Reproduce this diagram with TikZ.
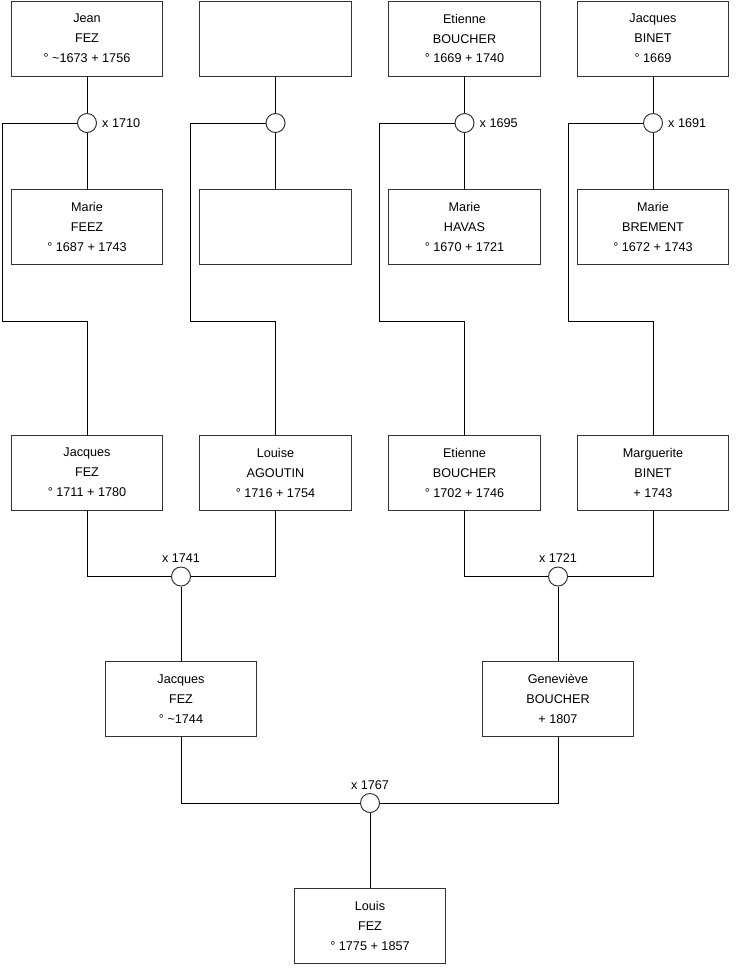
\documentclass[tikz,border=0pt]{standalone}
\usepackage{fontspec}
\setmainfont{Liberation Sans}
\begin{document}
\begin{tikzpicture}[x=0.025cm,y=-0.025cm,line width=0.7pt,
  every node/.style={font=\fontsize{9pt}{14.2pt}\selectfont},
  person/.style={draw=black!80,fill=white,align=center,minimum width=3.775cm,minimum height=1.875cm,inner sep=0pt},
  union/.style={draw=black!80,fill=white,circle,minimum size=0.475cm,inner sep=0pt}]
  \useasboundingbox (0,0) rectangle (740,975);
  % generation 1
  \node[person] (jean) at (87,38.5) {Jean\\FEZ\\° \textasciitilde1673 + 1756};
  \node[person] (unknown) at (275.5,38.5) {};
  \node[person] (etienne) at (464.5,38.5) {Etienne\\BOUCHER\\° 1669 + 1740};
  \node[person] (jacquesb) at (653,38.5) {Jacques\\BINET\\° 1669};
  \node[person] (mariefeez) at (87,227) {Marie\\FEEZ\\° 1687 + 1743};
  \node[person] (unknown2) at (275.5,227) {};
  \node[person] (mariehavas) at (464.5,227) {Marie\\HAVAS\\° 1670 + 1721};
  \node[person] (mariebrement) at (653,227) {Marie\\BREMENT\\° 1672 + 1743};
  \node[union,label={right:x 1710}] (m1) at (87,123) {};
  \node[union] (m2) at (275.5,123) {};
  \node[union,label={right:x 1695}] (m3) at (464.5,123) {};
  \node[union,label={right:x 1691}] (m4) at (653,123) {};
  \coordinate (k1) at (2,321);
  \coordinate (k2) at (190.5,321);
  \coordinate (k3) at (379.5,321);
  \coordinate (k4) at (568,321);
  % generation 2
  \node[person] (jacques) at (87,472.5) {Jacques\\FEZ\\° 1711 + 1780};
  \node[person] (louise) at (275.5,472.5) {Louise\\AGOUTIN\\° 1716 + 1754};
  \node[person] (etienne2) at (464.5,472.5) {Etienne\\BOUCHER\\° 1702 + 1746};
  \node[person] (marguerite) at (653,472.5) {Marguerite\\BINET\\+ 1743};
  \node[union,label={[label distance=-1pt]above:x 1741}] (m5) at (181,576.5) {};
  \node[union,label={[label distance=-1pt]above:x 1721}] (m6) at (558,576.5) {};
  % generation 3
  \node[person] (jacques2) at (181,699) {Jacques\\FEZ\\° \textasciitilde1744};
  \node[person] (genevieve) at (558,699) {Geneviève\\BOUCHER\\+ 1807};
  \node[union,label={[label distance=-1pt]above:x 1767}] (m7) at (370,803) {};
  \node[person] (louis) at (370,925.5) {Louis\\FEZ\\° 1775 + 1857};
  % couples
  \draw (jean) -- (m1) -- (mariefeez);
  \draw (unknown) -- (m2) -- (unknown2);
  \draw (etienne) -- (m3) -- (mariehavas);
  \draw (jacquesb) -- (m4) -- (mariebrement);
  \draw (m1) -| (k1) -| (jacques);
  \draw (m2) -| (k2) -| (louise);
  \draw (m3) -| (k3) -| (etienne2);
  \draw (m4) -| (k4) -| (marguerite);
  \draw (jacques) |- (m5);
  \draw (louise) |- (m5);
  \draw (m5) -- (jacques2);
  \draw (etienne2) |- (m6);
  \draw (marguerite) |- (m6);
  \draw (m6) -- (genevieve);
  \draw (jacques2) |- (m7);
  \draw (genevieve) |- (m7);
  \draw (m7) -- (louis);
\end{tikzpicture}
\end{document}
